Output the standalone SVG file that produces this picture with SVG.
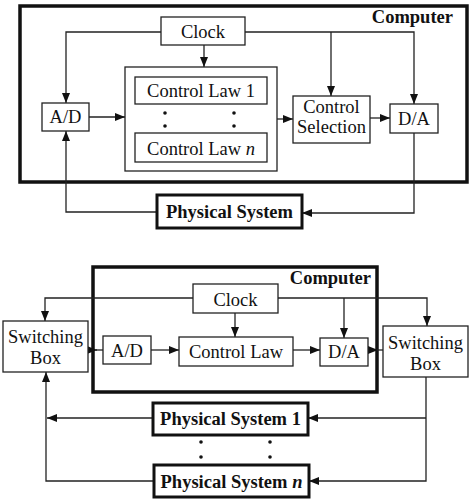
<svg xmlns="http://www.w3.org/2000/svg" width="474" height="500" viewBox="0 0 474 500">
<defs>
<marker id="ah" viewBox="0 0 10 8" refX="10" refY="4" markerUnits="userSpaceOnUse" markerWidth="10" markerHeight="8" orient="auto">
<path d="M0,0 L10,4 L0,8 z" fill="#111"/>
</marker>
<style>
.box{fill:#fff;stroke:#222;stroke-width:1.3}
.thick{fill:none;stroke:#111;stroke-width:3.5}
.ps{fill:#fff;stroke:#111;stroke-width:3}
.t{font-family:"Liberation Serif","Times New Roman",serif;font-size:18.5px;fill:#111;text-anchor:middle}
.b{font-weight:bold}
.c{fill:none;stroke:#222;stroke-width:1.3}
.a{marker-end:url(#ah)}
.dot{fill:#111}
</style>
</defs>
<rect width="474" height="500" fill="#fff"/>

<!-- Top diagram -->
<g id="computer1">
<rect class="thick" x="20" y="6" width="447" height="176"/>
<text class="t b" x="453" y="23" style="text-anchor:end">Computer</text>
</g>
<g id="connectors1">
<path class="c a" d="M161,32 H66 V103"/>
<path class="c a" d="M204,45 V67"/>
<path class="c a" d="M245,32 H414 V104"/>
<path class="c a" d="M331,32 V96"/>
<path class="c a" d="M89,117 H125"/>
<path class="c a" d="M277,119 H293"/>
<path class="c a" d="M370,118 H390"/>
<path class="c a" d="M414,133 V213 H302"/>
<path class="c a" d="M157,212 H66 V131"/>
</g>
<g id="clock1">
<rect class="box" x="161" y="17" width="84" height="28"/>
<text class="t" x="203" y="38">Clock</text>
</g>
<g id="controllaws">
<rect class="box" x="125" y="67" width="152" height="104"/>
<rect class="box" x="135" y="77" width="132" height="27"/>
<text class="t" x="201" y="97">Control Law 1</text>
<circle class="dot" cx="165" cy="113" r="1.8"/>
<circle class="dot" cx="165" cy="126" r="1.8"/>
<circle class="dot" cx="234" cy="113" r="1.8"/>
<circle class="dot" cx="234" cy="126" r="1.8"/>
<rect class="box" x="135" y="133" width="132" height="29"/>
<text class="t" x="201" y="155">Control Law <tspan font-style="italic">n</tspan></text>
</g>
<g id="ad1">
<rect class="box" x="42" y="103" width="47" height="28"/>
<text class="t" x="65.5" y="123">A/D</text>
</g>
<g id="ctrlsel">
<rect class="box" x="293" y="96" width="77" height="47"/>
<text class="t" x="331.5" y="113">Control</text>
<text class="t" x="331.5" y="133">Selection</text>
</g>
<g id="da1">
<rect class="box" x="390" y="104" width="48" height="29"/>
<text class="t" x="414" y="125">D/A</text>
</g>
<g id="physys">
<rect class="ps" x="157" y="195" width="145" height="33"/>
<text class="t b" x="229.5" y="218">Physical System</text>
</g>

<!-- Bottom diagram -->
<g id="computer2">
<rect class="thick" x="93" y="267" width="284" height="125"/>
<text class="t b" x="371" y="284" style="text-anchor:end">Computer</text>
</g>
<g id="connectors2">
<path class="c a" d="M193,298 H45 V321"/>
<path class="c a" d="M235,313 V337"/>
<path class="c a" d="M278,298 H427 V326"/>
<path class="c a" d="M344,298 V338"/>
<path class="c a" d="M88,350 H97"/>
<path class="c" d="M96,350 H103"/>
<path class="c a" d="M151,350 H179"/>
<path class="c a" d="M293,350 H320"/>
<path class="c a" d="M368,350 H378"/>
<path class="c" d="M377,350 H383"/>
<path class="c a" d="M426,377 V481 H309"/>
<path class="c a" d="M426,418 H308"/>
<path class="c a" d="M153,418 H47"/>
<path class="c a" d="M153,481 H46 V372"/>
</g>
<g id="clock2">
<rect class="box" x="193" y="284" width="85" height="29"/>
<text class="t" x="235.5" y="306">Clock</text>
</g>
<g id="swbox1">
<rect class="box" x="3" y="321" width="85" height="51"/>
<text class="t" x="45.5" y="343">Switching</text>
<text class="t" x="45.5" y="364">Box</text>
</g>
<g id="ad2">
<rect class="box" x="103" y="336" width="48" height="28"/>
<text class="t" x="127" y="357">A/D</text>
</g>
<g id="controllaw2">
<rect class="box" x="179" y="337" width="114" height="29"/>
<text class="t" x="236" y="358">Control Law</text>
</g>
<g id="da2">
<rect class="box" x="320" y="338" width="48" height="28"/>
<text class="t" x="344" y="358">D/A</text>
</g>
<g id="swbox2">
<rect class="box" x="383" y="326" width="85" height="51"/>
<text class="t" x="425.5" y="349">Switching</text>
<text class="t" x="425.5" y="370">Box</text>
</g>
<g id="physys1">
<rect class="ps" x="153" y="403" width="155" height="32"/>
<text class="t b" x="230.5" y="425">Physical System 1</text>
</g>
<g id="dots2">
<circle class="dot" cx="201" cy="442" r="1.8"/>
<circle class="dot" cx="201" cy="457" r="1.8"/>
<circle class="dot" cx="270" cy="442" r="1.8"/>
<circle class="dot" cx="270" cy="457" r="1.8"/>
</g>
<g id="physysn">
<rect class="ps" x="154" y="465" width="155" height="32"/>
<text class="t b" x="231.5" y="488">Physical System <tspan font-style="italic">n</tspan></text>
</g>
</svg>
